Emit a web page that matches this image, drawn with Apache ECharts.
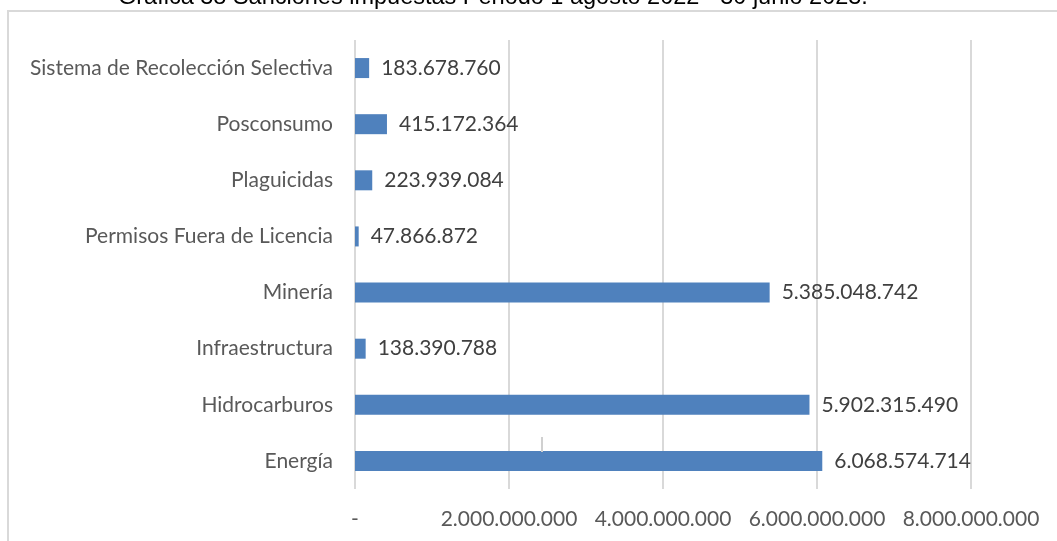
<!DOCTYPE html>
<html><head><meta charset="utf-8">
<script src="https://cdn.jsdelivr.net/npm/echarts@6/dist/echarts.min.js"></script>
<style>html,body{margin:0;padding:0;background:#fff}#c{width:1057px;height:541px}</style>
</head><body><div id="c"></div>
<script>
const categories = ["Energía","Hidrocarburos","Infraestructura","Minería","Permisos Fuera de Licencia","Plaguicidas","Posconsumo","Sistema de Recolección Selectiva"];
const values = [6068574714, 5902315490, 138390788, 5385048742, 47866872, 223939084, 415172364, 183678760];
const axisTicks = [0, 2000000000, 4000000000, 6000000000, 8000000000];
const titleText = "Gráfica 38 Sanciones impuestas Periodo 1 agosto 2022 - 30 junio 2023.";

function fmt(v){
  if (v === 0) return "-";
  return String(Math.round(v)).replace(/\B(?=(\d{3})+(?!\d))/g, ".");
}
const chart = echarts.init(document.getElementById('c'));
const FONT = "Lato";
chart.setOption({
  animation: false,
  graphic: [
    {type: 'text', left: 118, top: -14, style: {text: titleText, font: '23.5px "Liberation Sans"', fill: '#000'}, silent: true},
    {type: 'rect', shape: {x: 8, y: 11, width: 1200, height: 700}, style: {fill: 'none', stroke: '#d9d9d9', lineWidth: 2}, silent: true, z: -10},
    {type: 'line', shape: {x1: 542, y1: 437, x2: 542, y2: 452}, style: {stroke: '#d0d0d0', lineWidth: 2}, z: 100}
  ],
  grid: {left: 355, right: 86, top: 40, bottom: 52, containLabel: false},
  xAxis: {
    type: 'value', min: 0, max: axisTicks[axisTicks.length-1], interval: axisTicks[1]-axisTicks[0],
    axisLine: {show: false}, axisTick: {show: false},
    splitLine: {show: true, lineStyle: {color: '#d9d9d9', width: 2}},
    axisLabel: {formatter: fmt, fontFamily: FONT, fontSize: 21, color: '#595959', margin: 20}
  },
  yAxis: {
    type: 'category', data: categories,
    axisLine: {show: false}, axisTick: {show: false},
    axisLabel: {fontFamily: FONT, fontSize: 21, color: '#595959', margin: 22}
  },
  series: [{
    type: 'bar', data: values, barWidth: 20,
    itemStyle: {color: '#4f81bd'},
    label: {show: true, position: 'right', distance: 12, formatter: p => fmt(p.value), fontFamily: FONT, fontSize: 21, color: '#404040'}
  }]
});
</script></body></html>
